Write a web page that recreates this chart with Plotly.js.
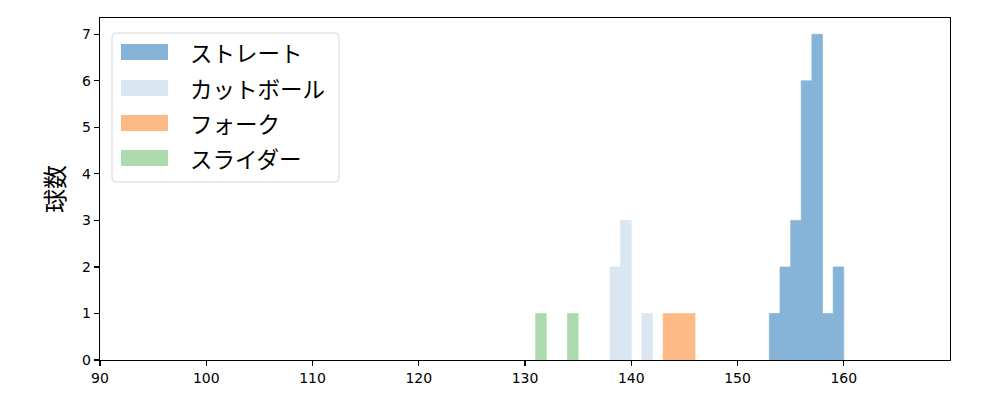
<!DOCTYPE html>
<html>
<head>
<meta charset="utf-8">
<script src="https://cdn.plot.ly/plotly-3.0.1.min.js"></script>
<style>html,body{margin:0;padding:0;background:#fff;}#chart{width:1000px;height:400px;}</style>
</head>
<body>
<div id="chart"></div>
<script>
// Pitch-type names (legend labels)
const pitchNames = ["ストレート", "カットボール", "フォーク", "スライダー"];
const pitchColors = ["#86b4d9", "#dbe6f3", "#fdba87", "#acdaac"];

// Histogram bins: left edge of each 1 km/h bin and the count in it
const straightBins = [153, 154, 155, 156, 157, 158, 159];
const straightCounts = [1, 2, 3, 6, 7, 1, 2];
const cutterBins = [138, 139, 141];
const cutterCounts = [2, 3, 1];
const forkBins = [143, 144, 145];
const forkCounts = [1, 1, 1];
const sliderBins = [131, 134];
const sliderCounts = [1, 1];

const xTicks = [90, 100, 110, 120, 130, 140, 150, 160];
const yTicks = [0, 1, 2, 3, 4, 5, 6, 7];
const yTitle = "球数";

const binsAll = [straightBins, cutterBins, forkBins, sliderBins];
const countsAll = [straightCounts, cutterCounts, forkCounts, sliderCounts];

const traces = pitchNames.map((name, i) => ({
  type: "bar",
  name: name,
  x: binsAll[i],
  y: countsAll[i],
  width: 1,
  offset: 0,
  marker: {color: pitchColors[i], line: {width: 0.7, color: pitchColors[i]}},
  showlegend: false,
  hoverinfo: "x+y+name"
}));

// plot area in pixels
const L = 100, R = 950, T = 18, B = 360;
const px = v => (v - L) / (R - L);
const py = v => (B - v) / (B - T);

const shapes = [];
const annotations = [];
// legend frame (rounded)
(function () {
  const x0 = 112, x1 = 339, y0 = 33, y1 = 182, r = 4;
  const P = (x, y) => px(x) + "," + py(y);
  shapes.push({
    type: "path", xref: "paper", yref: "paper",
    path: "M" + P(x0 + r, y0) + " L" + P(x1 - r, y0) + " Q" + P(x1, y0) + " " + P(x1, y0 + r) +
      " L" + P(x1, y1 - r) + " Q" + P(x1, y1) + " " + P(x1 - r, y1) +
      " L" + P(x0 + r, y1) + " Q" + P(x0, y1) + " " + P(x0, y1 - r) +
      " L" + P(x0, y0 + r) + " Q" + P(x0, y0) + " " + P(x0 + r, y0) + " Z",
    fillcolor: "rgba(255,255,255,0.8)",
    line: {color: "#d6d6d6", width: 1}
  });
})();
const rowY = [52, 88, 123, 158];
pitchNames.forEach((name, i) => {
  shapes.push({
    type: "rect", xref: "paper", yref: "paper",
    x0: px(121), x1: px(168), y0: py(rowY[i] + 8), y1: py(rowY[i] - 8),
    fillcolor: pitchColors[i], line: {width: 0}
  });
  annotations.push({
    xref: "paper", yref: "paper", x: px(188), y: py(rowY[i]),
    xanchor: "left", yanchor: "middle", showarrow: false,
    text: name, font: {family: "Noto Sans CJK JP", size: 22.5, color: "#000"}
  });
});

const axisCommon = {
  showline: true, mirror: true, linecolor: "#000", linewidth: 1.2,
  ticks: "outside", ticklen: 5, tickwidth: 1.2, tickcolor: "#000",
  showgrid: false, zeroline: false,
  tickfont: {family: "DejaVu Sans", size: 14, color: "#000"}
};

const layout = {
  width: 1000, height: 400,
  margin: {l: L, r: 1000 - R, t: T, b: 400 - B},
  paper_bgcolor: "#fff", plot_bgcolor: "#fff",
  barmode: "overlay",
  showlegend: false,
  xaxis: Object.assign({}, axisCommon, {range: [90, 170], tickvals: xTicks, ticktext: xTicks.map(String)}),
  yaxis: Object.assign({}, axisCommon, {
    range: [0, 7.35], tickvals: yTicks, ticktext: yTicks.map(String),
    title: {text: yTitle, font: {family: "Noto Sans CJK JP", size: 24, color: "#000"}, standoff: 10}
  }),
  shapes: shapes,
  annotations: annotations
};

Plotly.newPlot("chart", traces, layout, {displayModeBar: false, staticPlot: true});
</script>
</body>
</html>
